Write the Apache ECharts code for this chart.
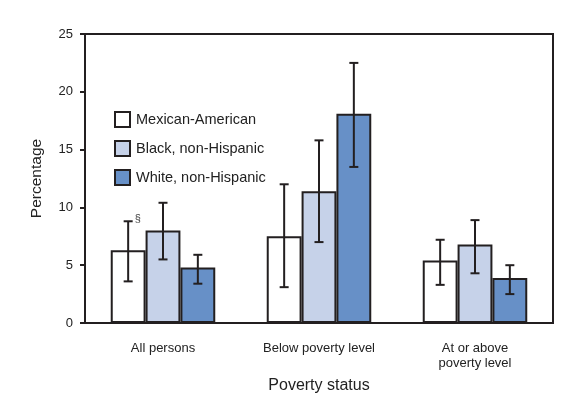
<!DOCTYPE html>
<html>
<head>
<meta charset="utf-8">
<script src="https://cdn.jsdelivr.net/npm/echarts@6/dist/echarts.min.js"></script>
<style>
  html, body { margin: 0; padding: 0; background: #fff; }
  #chart { width: 573px; height: 399px; }
</style>
</head>
<body>
<div id="chart"></div>
<script>
const categories = ['All persons', 'Below poverty level', 'At or above\npoverty level'];
const seriesNames = ['Mexican-American', 'Black, non-Hispanic', 'White, non-Hispanic'];
const mexican = [6.3, 7.5, 5.4];
const black = [8.0, 11.4, 6.8];
const white = [4.8, 18.1, 3.9];
// 95% CI [low, high]
const mexicanCI = [[3.6, 8.8], [3.1, 12.0], [3.3, 7.2]];
const blackCI = [[5.5, 10.4], [7.0, 15.8], [4.3, 8.9]];
const whiteCI = [[3.4, 5.9], [13.5, 22.5], [2.5, 5.0]];
const mexicanNotes = ['§', '', ''];
const yTicks = [0, 5, 10, 15, 20, 25];

const colors = ['#ffffff', '#c6d2e9', '#6790c7'];
const edge = '#231f20';
const font = 'Liberation Sans, Arial, sans-serif';
const gapRatio = 0.33;

const values = [mexican, black, white];
const cis = [mexicanCI, blackCI, whiteCI];
const notes = [mexicanNotes, ['', '', ''], ['', '', '']];

// error bars drawn through the axis scales
function errorSeries(idx) {
  return {
    type: 'custom',
    name: seriesNames[idx] + ' CI',
    z: 5,
    data: cis[idx].map((c, i) => [i, c[0], c[1]]),
    renderItem: function (params, api) {
      const cat = api.value(0);
      const band = api.size([1, 0])[0];
      const barW = band * (1 - gapRatio) / 3;
      const lo = api.coord([cat, api.value(1)]);
      const hi = api.coord([cat, api.value(2)]);
      const x = lo[0] + (idx - 1) * barW;
      const cap = 4.5;
      const st = { stroke: edge, lineWidth: 2 };
      const kids = [
        { type: 'line', shape: { x1: x, y1: lo[1], x2: x, y2: hi[1] }, style: st },
        { type: 'line', shape: { x1: x - cap, y1: lo[1], x2: x + cap, y2: lo[1] }, style: st },
        { type: 'line', shape: { x1: x - cap, y1: hi[1], x2: x + cap, y2: hi[1] }, style: st }
      ];
      const note = notes[idx][params.dataIndex];
      if (note) {
        kids.push({
          type: 'text',
          style: { text: note, x: x + cap + 2, y: hi[1] - 2, fill: '#444', font: '11px ' + font, textAlign: 'left', textVerticalAlign: 'middle' }
        });
      }
      return { type: 'group', children: kids };
    }
  };
}

const chart = echarts.init(document.getElementById('chart'));
const option = {
  animation: false,
  textStyle: { fontFamily: font },
  grid: {
    left: 85, right: 20, top: 34, bottom: 76,
    show: true, borderColor: edge, borderWidth: 2, backgroundColor: 'transparent'
  },
  legend: {
    orient: 'vertical',
    left: 109, top: 106,
    itemWidth: 15, itemHeight: 15, itemGap: 12,
    icon: 'rect',
    data: seriesNames,
    textStyle: { fontSize: 14.5, color: '#222', fontFamily: font, padding: [0, 0, 0, 1] },
    itemStyle: { borderColor: edge, borderWidth: 2 }
  },
  xAxis: {
    type: 'category',
    data: categories,
    name: 'Poverty status',
    nameLocation: 'middle',
    nameGap: 55,
    nameTextStyle: { fontSize: 16, color: '#222' },
    axisLine: { lineStyle: { color: edge, width: 2 } },
    axisTick: { alignWithLabel: true, length: 6, lineStyle: { color: edge, width: 2 } },
    axisLabel: { fontSize: 13, color: '#222', margin: 18, lineHeight: 15 }
  },
  yAxis: {
    type: 'value',
    min: yTicks[0], max: yTicks[yTicks.length - 1], interval: 5,
    name: 'Percentage',
    nameLocation: 'middle',
    nameGap: 40,
    nameTextStyle: { fontSize: 15.5, color: '#222' },
    splitLine: { show: false },
    axisLine: { show: true, lineStyle: { color: edge, width: 2 } },
    axisTick: { show: true, length: 5, lineStyle: { color: edge, width: 2 } },
    axisLabel: { fontSize: 13, color: '#222', margin: 12 }
  },
  series: seriesNames.map((name, i) => ({
    name: name,
    type: 'bar',
    data: values[i],
    barGap: '0%',
    barCategoryGap: (gapRatio * 100) + '%',
    itemStyle: { color: colors[i], borderColor: edge, borderWidth: 2 }
  })).concat([0, 1, 2].map(errorSeries))
};
chart.setOption(option);
window.onresize = function () {
  chart.resize();
};
</script>
</body>
</html>
